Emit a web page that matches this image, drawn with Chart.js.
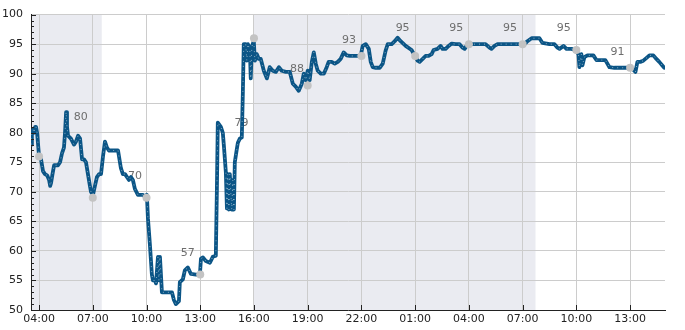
<!DOCTYPE html>
<html><head><meta charset="utf-8">
<script src="https://cdn.jsdelivr.net/npm/chart.js@4"></script>
<style>html,body{margin:0;padding:0;background:#fff}#wrap{width:685px;height:330px}</style>
</head><body><div id="wrap"><canvas id="c" width="685" height="330"></canvas></div>
<script>
// Hours counted from 00:00 of the first day (24+ = next day)
const hours = [3.55,3.6,3.67,3.72,3.78,3.83,3.89,4.0,4.11,4.22,4.33,4.45,4.56,4.62,4.67,4.75,4.84,4.95,5.06,5.17,5.28,5.39,5.45,5.51,5.56,5.62,5.78,5.95,6.06,6.18,6.29,6.40,6.51,6.62,6.73,6.84,6.90,7.01,7.12,7.23,7.35,7.46,7.57,7.68,7.79,7.90,8.13,8.41,8.57,8.68,8.80,9.02,9.13,9.24,9.35,9.52,9.80,9.97,10.02,10.08,10.19,10.30,10.36,10.47,10.53,10.64,10.69,10.75,10.86,10.97,11.19,11.42,11.53,11.64,11.81,11.86,12.03,12.14,12.31,12.48,12.76,12.98,13.04,13.15,13.31,13.54,13.70,13.87,13.93,13.98,14.15,14.26,14.32,14.43,14.49,14.54,14.60,14.65,14.76,14.82,14.88,14.93,15.04,15.10,15.21,15.32,15.38,15.43,15.54,15.60,15.66,15.77,15.82,15.88,15.99,16.05,16.16,16.27,16.38,16.55,16.72,16.88,17.05,17.22,17.39,17.55,17.78,18.00,18.17,18.33,18.50,18.67,18.78,18.89,19.00,19.11,19.23,19.34,19.45,19.56,19.73,19.90,20.06,20.17,20.34,20.51,20.68,20.84,21.01,21.18,21.35,21.62,21.79,21.96,22.07,22.24,22.41,22.52,22.63,22.80,23.02,23.19,23.35,23.47,23.69,23.86,24.02,24.19,24.47,24.80,24.97,25.14,25.25,25.42,25.58,25.75,25.92,26.03,26.25,26.42,26.53,26.70,26.87,27.04,27.26,27.48,27.65,27.76,27.93,28.15,28.43,28.71,28.93,29.15,29.26,29.43,29.60,29.99,30.44,30.94,31.11,31.27,31.50,31.94,32.11,32.50,32.78,32.95,33.06,33.28,33.45,33.73,33.95,34.12,34.17,34.28,34.34,34.45,34.62,34.95,35.12,35.40,35.62,35.85,36.12,36.40,36.68,36.91,37.07,37.30,37.41,37.57,37.74,37.97,38.08,38.30,38.47,38.63,38.80,38.91];
const values = [78,80,80.5,80,81,81,80,76,75.5,73.5,73,72.8,72,71,71.5,73,74.5,74.5,74.5,75,76.5,77.5,80,83.5,81,79.5,79,78,78.5,79.5,79,75.5,75.5,75,73,71,70,69.5,71,72.5,73,73,76,78.5,77.5,77,77,77,74,73,73,72,72.5,72,70.5,69.5,69.5,69,69.5,65.5,61,56,55,55,54.5,59,55,59,53,53,53,53,51.7,51,51.5,54.7,55.2,56.7,57.2,56.1,56,56,58.7,58.9,58.3,58,59,59.2,70.5,81.7,81,80,77.8,73.3,67.2,73,67,73,67,72,67,75,77.2,78.3,79,79.2,86.9,95,95,92.2,95,94,89.2,94.6,95.5,92.2,93.3,92.5,92.5,90.5,89.2,91.1,90.5,90.3,91.1,90.5,90.3,90.3,88.3,87.8,87.1,88.3,90,88.9,90.5,88.9,92,93.6,91.7,90.5,90,90,91.1,92,92,91.7,92,92.5,93.6,93.1,93,93,93,93,94.7,95,94.2,92,91.1,91,91,91.7,93.9,95,95,95.5,96.1,95.5,94.7,94,93.1,92.2,92,92.5,93,93,93.3,94,94.2,94.7,94.2,94.2,94.7,95.1,95,95,94.4,94.2,95,95,95,95,95,94.4,94.2,94.7,95,95,95,95,95,95.5,96,96,95.2,95,95,94.4,94.2,94.7,94.2,94.2,94,93.3,91.1,93.3,91.4,92.8,93.1,93.1,92.3,92.3,92.3,91.1,91,91,91,91,91,90.3,92,92,92.2,92.8,93.1,93.1,92.5,92,91.4,91];
const markerHours = [4,7,10,13,16,19,22,25,28,31,34,37];
const markerValues = [76,69,69,56,96,88,93,93,95,95,94,91];
const noteHours = [6.33,9.35,12.3,15.3,18.4,21.3,24.3,27.3,30.3,33.3,36.3];
const noteValues = [82.6,72.7,59.6,81.7,90.7,95.7,97.7,97.7,97.7,97.7,93.6];
const noteTexts = ["80","70","57","79","88","93","95","95","95","95","91"];
const bandStart = [3.55,16];
const bandEnd = [7.5,31.72];
const tickHours = [4,7,10,13,16,19,22,25,28,31,34,37];
const yTicks = [50,55,60,65,70,75,80,85,90,95,100];
const xMin = 3.55, xMax = 38.95;

function fmt(h){ const hh = Math.round(h) % 24; return (hh<10?'0':'')+hh+':00'; }

const bands = {
  id:'bands',
  beforeDraw(chart){
    const {ctx, chartArea:a, scales:{x}} = chart;
    ctx.save(); ctx.fillStyle='#eaebf1';
    for(let i=0;i<bandStart.length;i++){
      const x0=x.getPixelForValue(bandStart[i]), x1=x.getPixelForValue(bandEnd[i]);
      ctx.fillRect(x0,a.top,x1-x0,a.bottom-a.top);
    }
    ctx.restore();
  }
};
const notes = {
  id:'notes',
  beforeDatasetsDraw(chart){
    const {ctx, scales:{x,y}} = chart;
    ctx.save(); ctx.fillStyle='#6e6e6e'; ctx.font='11px "DejaVu Sans"';
    ctx.textAlign='center'; ctx.textBaseline='middle';
    noteTexts.forEach((t,i)=>ctx.fillText(t, x.getPixelForValue(noteHours[i]), y.getPixelForValue(noteValues[i])));
    ctx.restore();
  }
};
const innerTicks = {
  id:'innerTicks',
  afterDraw(chart){
    const {ctx, chartArea:a, scales:{x,y}} = chart;
    ctx.save(); ctx.strokeStyle='#222'; ctx.lineWidth=1; ctx.beginPath();
    for(let v=50; v<=100; v++){
      const py=Math.round(y.getPixelForValue(v))+0.5;
      const len = v%5===0?5:3;
      ctx.moveTo(a.left, py); ctx.lineTo(a.left+len, py);
    }
    tickHours.forEach(h=>{
      const px=Math.round(x.getPixelForValue(h))+0.5;
      ctx.moveTo(px,a.bottom); ctx.lineTo(px,a.bottom-5);
    });
    ctx.stroke(); ctx.restore();
  }
};

const pts = hours.map((h,i)=>({x:h,y:values[i]}));
new Chart(document.getElementById('c'),{
  type:'line',
  data:{datasets:[
    {data:markerHours.map((h,i)=>({x:h,y:markerValues[i]})), showLine:false, pointRadius:4, pointHoverRadius:4,
     pointBackgroundColor:'#c3c3c3', pointBorderWidth:0, order:0},
    {data:pts, borderColor:'rgba(255,255,255,0.5)', borderWidth:1, borderDash:[1,4], pointRadius:0, tension:0, order:1, borderJoinStyle:'round'},
    {data:pts, borderColor:'#0b5586', borderWidth:3.8, pointRadius:0, tension:0, order:2, borderJoinStyle:'round', borderCapStyle:'round'}
  ]},
  options:{
    responsive:false, animation:false, devicePixelRatio:1,
    layout:{padding:{top:10,right:20,left:0,bottom:0}},
    plugins:{legend:{display:false}, tooltip:{enabled:false}},
    scales:{
      x:{type:'linear', min:xMin, max:xMax,
        afterBuildTicks(s){ s.ticks = tickHours.map(v=>({value:v})); },
        afterFit(s){ s.height = 20; },
        ticks:{callback:(v)=>fmt(v), autoSkip:false, maxRotation:0, padding:3, color:'#222', font:{family:'DejaVu Sans', size:11}},
        grid:{color:'#cccccc', drawTicks:false, lineWidth:1},
        border:{display:true, color:'#222', width:1}
      },
      y:{min:50, max:100,
        afterBuildTicks(s){ s.ticks = yTicks.map(v=>({value:v})); },
        afterFit(s){ s.width = 31; },
        ticks:{padding:8, color:'#222', font:{family:'DejaVu Sans', size:11}},
        grid:{color:'#cccccc', drawTicks:false, lineWidth:1},
        border:{display:true, color:'#222', width:1}
      }
    }
  },
  plugins:[bands, notes, innerTicks]
});
</script></body></html>
